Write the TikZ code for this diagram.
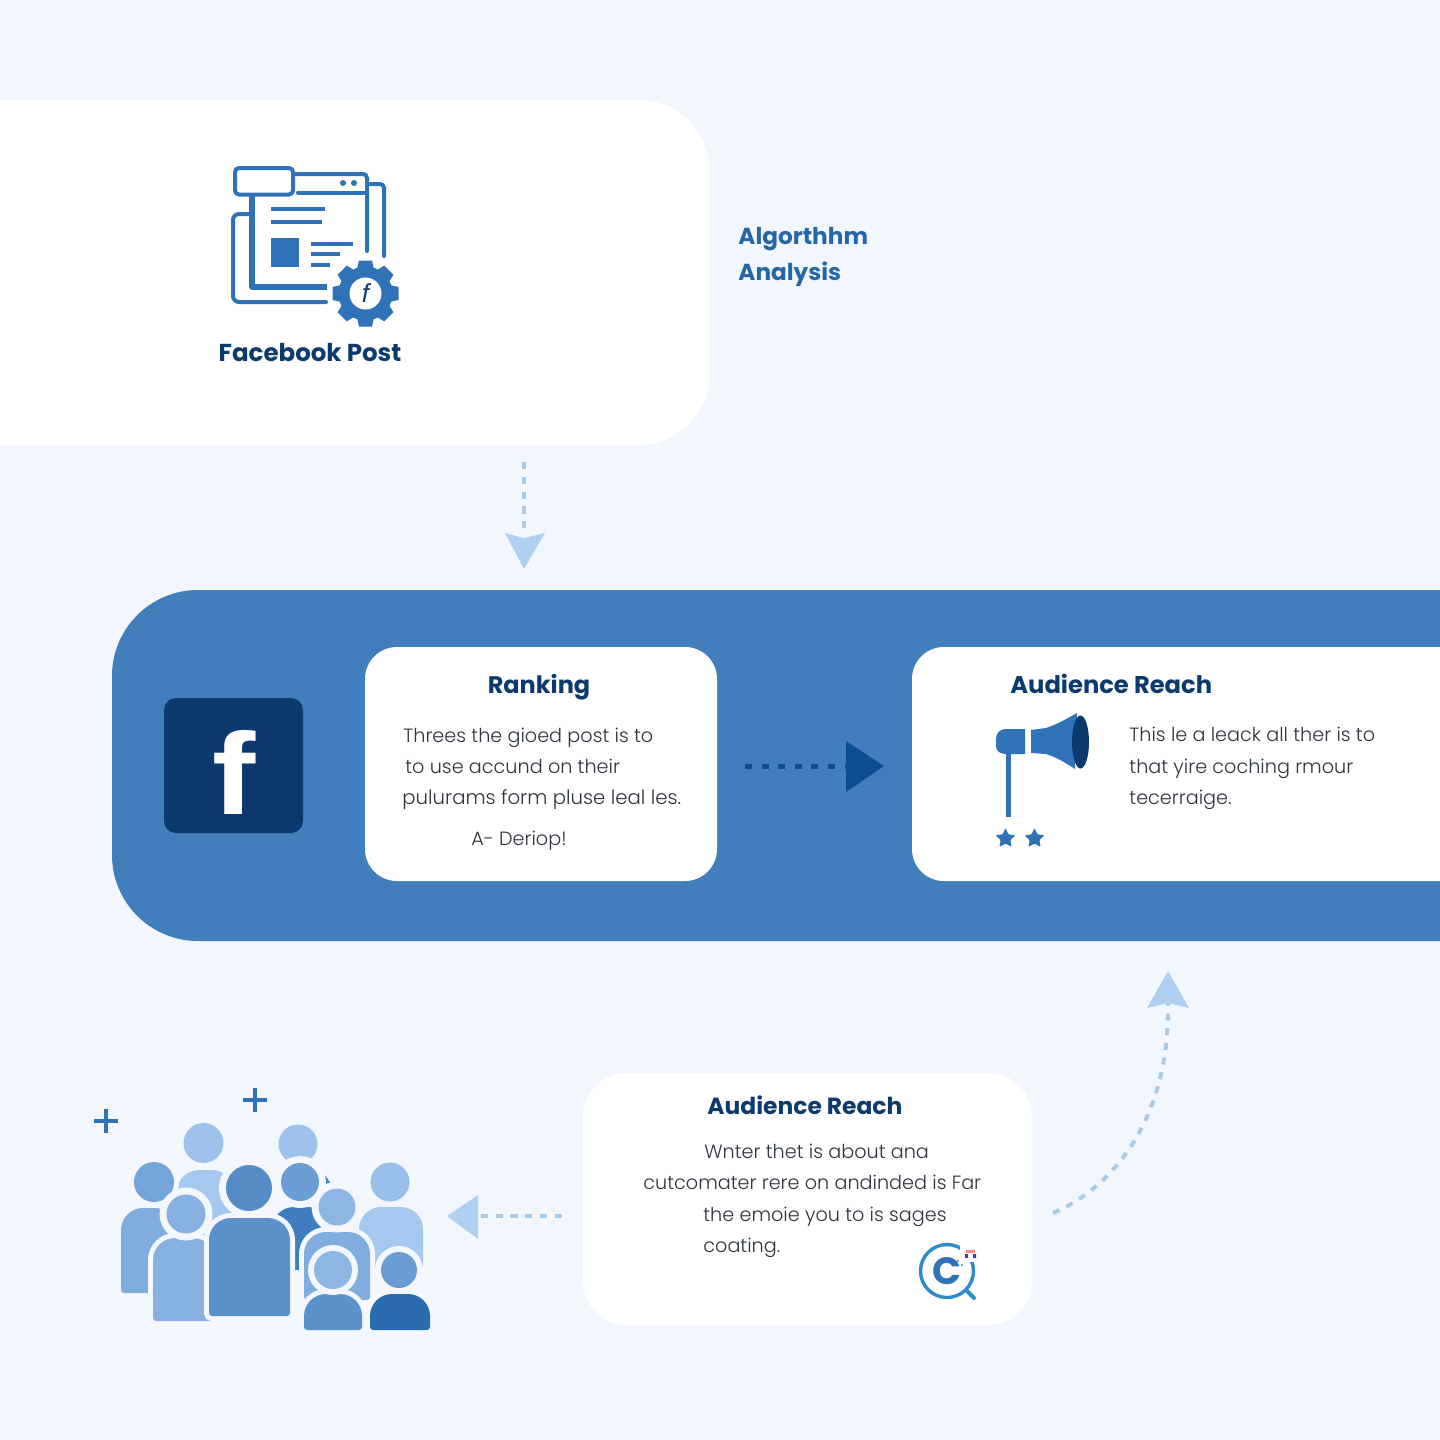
\documentclass[tikz,border=0pt]{standalone}
\usepackage{fontspec}
\usetikzlibrary{shapes.geometric,calc}
\setmainfont{Poppins}
\newfontfamily\headf{Poppins}[UprightFont=* SemiBold,BoldFont=* Bold]
\newfontfamily\bodyf{Poppins Light}
\newfontfamily\fbf{Liberation Sans}[BoldFont=* Bold,ItalicFont=* Italic,BoldItalicFont=* Bold Italic]
\definecolor{bgc}{HTML}{F2F7FE}
\definecolor{bandc}{HTML}{427DBC}
\definecolor{navy}{HTML}{0D3A6E}
\definecolor{iconc}{HTML}{2F72B8}
\definecolor{algoc}{HTML}{2566A8}
\definecolor{paleh}{HTML}{AFD0F0}
\definecolor{paled}{HTML}{A9CBE8}
\definecolor{darkd}{HTML}{0F4E8C}
\definecolor{darkh}{HTML}{0B4F92}
\definecolor{bodyc}{HTML}{2E353E}
\definecolor{haloc}{HTML}{F4F8FE}
\definecolor{lensc}{HTML}{2E8BC9}
\tikzset{
  x=0.5pt,y=-0.5pt,
  panel/.style={rectangle,fill=#1,inner sep=0pt,outer sep=0pt},
  headt/.style={inner sep=0pt,text=navy,font=\headf\bfseries\fontsize{#1}{15}\selectfont},
  bodyt/.style={anchor=base west,inner sep=0pt,text=bodyc,font=\bodyf\fontsize{#1}{12}\selectfont},
  bodyt/.default=9.6,
  algot/.style={anchor=base west,inner sep=0pt,text=algoc,font=\headf\bfseries\fontsize{11.6}{15}\selectfont},
  iconl/.style={draw=iconc,line width=2pt,line cap=round,line join=round},
  palel/.style={draw=paled,line width=2pt,dash pattern=on 3.6pt off 3.8pt},
  starn/.style={star,star points=5,star point ratio=2.1,fill=iconc,inner sep=0pt,minimum size=10.5pt,rounded corners=0.6pt},
}
% \personbody{l}{r}{t}{b}{colour}{halo width pt}
\newcommand{\personbody}[6]{%
  \fill[fill=#5,rounded corners=1.5pt,preaction={draw=haloc,line width=#6}]
    (#1,#4) -- (#2,#4) [rounded corners=11pt] -- (#2,#3) -- (#1,#3) [rounded corners=1.5pt] -- cycle;}
% \personhead{x}{y}{r}{colour}{halo}
\newcommand{\personhead}[5]{%
  \fill[haloc] (#1,#2) circle (#3+#5);
  \fill[fill=#4] (#1,#2) circle (#3);}
\begin{document}
\begin{tikzpicture}
\useasboundingbox (0,0) rectangle (1440,1440);
\path[clip] (0,0) rectangle (1440,1440);
\fill[bgc] (0,0) rectangle (1440,1440);

% panels
\node[panel=white,rounded corners=35pt,minimum width=429.5pt,minimum height=172.5pt] (post) at (279.5,272.5) {};
\node[panel=bandc,rounded corners=43pt,minimum width=744pt,minimum height=175.5pt] (band) at (856,765.5) {};
\node[panel=white,rounded corners=16pt,minimum width=176pt,minimum height=117pt] (rank) at (541,764) {};
\node[panel=white,rounded corners=16pt,minimum width=400pt,minimum height=117pt] (reach) at (1312,764) {};
\node[panel=white,rounded corners=22pt,minimum width=224.5pt,minimum height=126pt] (lower) at (807.5,1199) {};
\node[panel=navy,rounded corners=6pt,minimum width=69.5pt,minimum height=67.5pt] (fbsq) at (233.5,765.5) {};
\node[inner sep=0pt,text=white,xscale=1.12,font=\fbf\bfseries\fontsize{58}{58}\selectfont] (fbf) at (234,772) {f};

% post icon
\draw[iconl,rounded corners=2pt] (235,168) rectangle (293,194.5);
\draw[iconl,rounded corners=2pt] (293,174) -- (367,174) -- (367,251);
\draw[iconl] (298,192.5) -- (364,192.5);
\fill[iconc] (343,183) circle (3) (354,183) circle (3);
\draw[iconl,line width=2.6pt,line cap=butt] (252,196) -- (252,287) -- (327,287);
\draw[iconl,rounded corners=2pt] (370,184) -- (384,184) -- (384,256);
\draw[iconl,rounded corners=3pt] (250,214) -- (233,214) -- (233,302) -- (326,302);
\draw[iconl,line cap=butt] (271,209) -- (325,209) (271,222) -- (322,222)
  (311,243.5) -- (353,243.5) (311,254) -- (340,254) (311,264.5) -- (330,264.5);
\fill[iconc] (271,238) rectangle (299,267);
\foreach \a in {0,45,...,315}{
  \fill[iconc,shift={(365.5,293.5)},rotate=\a] (-6.5,-33) -- (6.5,-33) -- (9,-22) -- (-9,-22) -- cycle;}
\node[circle,fill=iconc,inner sep=0pt,minimum size=27pt] (gear) at (365.5,293.5) {};
\node[circle,fill=white,inner sep=0pt,minimum size=16pt,text=navy,font=\fbf\itshape\fontsize{13}{13}\selectfont] (gearf) at (365.5,293.5) {f};
\node[headt=12.25,anchor=base] (posttitle) at (310,361) {Facebook Post};

\node[algot] (algo1) at (738,244) {Algorthhm};
\node[algot] (algo2) at (738,280) {Analysis};

% ranking
\node[headt=12,anchor=base] (ranktitle) at (539,693) {Ranking};
\node[bodyt] (r1) at (403,742) {Threes the gioed post is to};
\node[bodyt] (r2) at (405,773) {to use accund on their};
\node[bodyt=9.85] (r3) at (402,804) {pulurams form pluse leal les.};
\node[bodyt] (r4) at (471,845) {A- Deriop!};

% reach
\node[headt=12.1,anchor=base west] (reachtitle) at (1010,693) {Audience Reach};
\node[bodyt] (a1) at (1129,741) {This le a leack all ther is to};
\node[bodyt] (a2) at (1129,773) {that yire coching rmour};
\node[bodyt] (a3) at (1129,804) {tecerraige.};
\fill[iconc] (1025,729) -- (1006,729) .. controls (1000,729) and (996,733) .. (996,739) -- (996,746) .. controls (996,751) and (1000,754) .. (1006,754) -- (1025,754) -- cycle;
\fill[iconc] (1006,750) rectangle (1011,817);
\fill[iconc] (1031,730) -- (1046,728) .. controls (1058,724) and (1068,718) .. (1077,713)
  -- (1075,769) .. controls (1066,763) and (1056,757) .. (1046,754) -- (1031,753) -- cycle;
\node[ellipse,fill=navy,inner sep=0pt,minimum width=8.5pt,minimum height=26.5pt] (mouth) at (1080.5,742) {};
\node[starn] (star1) at (1005.5,838.5) {};
\node[starn] (star2) at (1034.5,838.5) {};

% lower card
\node[headt=11.7,anchor=base west] (lowertitle) at (707,1114) {Audience Reach};
\node[bodyt] (l1) at (704,1158) {Wnter thet is about ana};
\node[bodyt] (l2) at (643,1189) {cutcomater rere on andinded is Far};
\node[bodyt] (l3) at (703,1221) {the emoie you to is sages};
\node[bodyt] (l4) at (703,1252) {coating.};
\node[circle,draw=lensc,line width=1.7pt,inner sep=0pt,minimum size=26.5pt,text=iconc,font=\headf\bfseries\fontsize{19}{19}\selectfont] (lens) at (947,1271) {C};
\draw[lensc,line width=2pt,line cap=round] (lens.-45) -- ++(7,7);
\fill[white] (960,1246) rectangle (980,1262);
\fill[red!45!white] (966,1250) rectangle (975,1253);
\fill[iconc!50!violet] (965,1254) rectangle (968,1258) (973,1254) rectangle (976,1258);
\fill[lensc] (958,1261) circle (1.2) (962,1265) circle (1.2);

% connectors
\coordinate (downA) at (524,462);
\coordinate (downB) at (524,535);
\draw[palel] (downA) -- (downB);
\fill[paleh] (505,533) -- (524,538) -- (545,533) -- (524,569) -- cycle;

\coordinate (rankR) at (745,766);
\coordinate (reachL) at (850,766);
\draw[draw=darkd,line width=2.5pt,dash pattern=on 3.5pt off 4.8pt] (rankR) -- (reachL);
\fill[darkh] (846,741) -- (884,766) -- (846,792) -- cycle;

\coordinate (curveA) at (1053,1213);
\coordinate (curveB) at (1168,1003);
\draw[palel] (curveA) .. controls (1112,1188) and (1170,1120) .. (curveB);
\fill[paleh] (1168,971) -- (1189,1008) -- (1168,1003) -- (1147,1008) -- cycle;

\coordinate (leftA) at (562,1216);
\coordinate (leftB) at (480,1216);
\draw[palel] (leftA) -- (leftB);
\fill[paleh] (447,1216) -- (478,1195) -- (478,1239) -- cycle;

% people
\definecolor{pA}{HTML}{A5C8EE}\definecolor{pB}{HTML}{9DC3EC}
\definecolor{pC}{HTML}{7FADDE}\definecolor{pD}{HTML}{74A5DA}
\definecolor{pE}{HTML}{97BFE9}\definecolor{pF}{HTML}{86B1E1}
\definecolor{pG}{HTML}{3F7DBF}\definecolor{pH}{HTML}{6A9DD3}
\definecolor{pI}{HTML}{5B92CC}\definecolor{pJ}{HTML}{568CC6}
\definecolor{pK}{HTML}{8DB6E4}\definecolor{pL}{HTML}{2B6CB0}
\draw[iconc,line width=1.6pt] (94,1121) -- (118,1121) (106,1109) -- (106,1133);
\draw[iconc,line width=1.6pt] (243,1100) -- (267,1100) (255,1088) -- (255,1112);
\personbody{177}{234}{1170}{1240}{pA}{0pt}
\personhead{203.5}{1143}{20}{pB}{5}
\personhead{298}{1144}{19.5}{pB}{0}
\fill[pG] (325,1175) -- (331,1184) -- (322,1186) -- cycle;
\personbody{121}{177}{1208}{1293}{pC}{0pt}
\personhead{154}{1182}{20}{pD}{5}
\personbody{359}{423}{1207}{1270}{pA}{0pt}
\personhead{390}{1182}{19.5}{pE}{5}
\personbody{153}{215}{1238}{1321}{pF}{5pt}
\personhead{186}{1214}{19.5}{pF}{7}
\personbody{272}{330}{1207}{1270}{pG}{0pt}
\personhead{300}{1182}{19}{pH}{7}
\personbody{209}{290}{1218}{1316}{pI}{5pt}
\personhead{249}{1188}{23}{pJ}{7}
\personbody{304}{370}{1232}{1300}{pC}{5pt}
\personhead{337}{1207}{18.5}{pK}{7}
\personbody{304}{362}{1294}{1330}{pI}{5pt}
\personhead{333}{1270}{19}{pK}{6}
\personbody{370}{430}{1294}{1330}{pL}{5pt}
\personhead{399}{1270}{18}{pH}{6}
\end{tikzpicture}
\end{document}
